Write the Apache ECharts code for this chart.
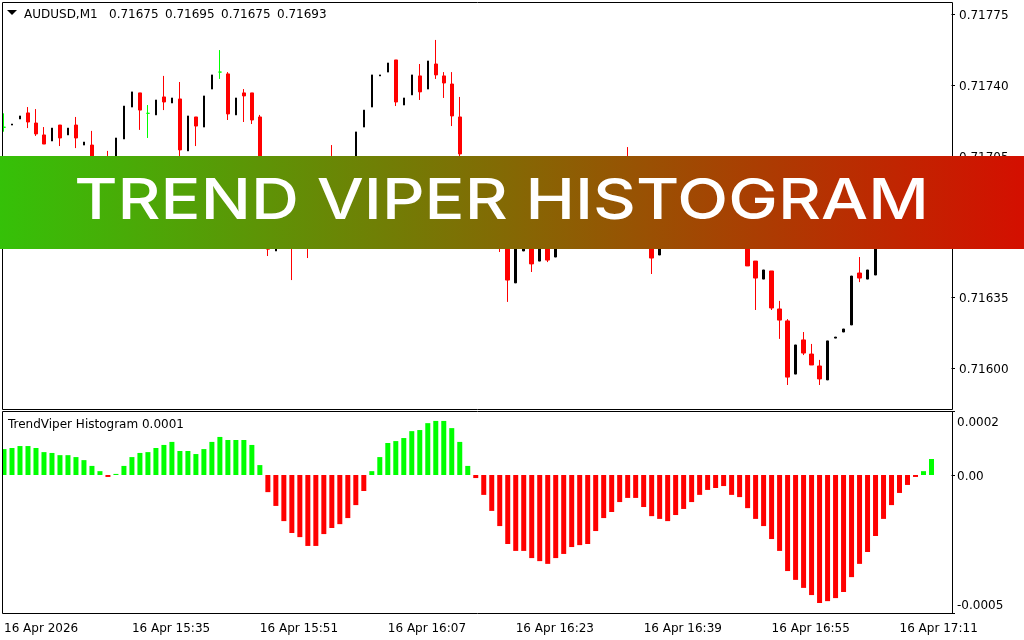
<!DOCTYPE html>
<html>
<head>
<meta charset="utf-8">
<title>Trend Viper Histogram</title>
<style>
  html, body { margin: 0; padding: 0; background: #fff; }
  #chart { width: 1024px; height: 640px; }
</style>
<script src="https://cdn.jsdelivr.net/npm/echarts@6/dist/echarts.min.js"></script>
</head>
<body>
<div id="chart"></div>
<script>
const FONT = "DejaVu Sans";
const UP_COLOR = "#000000";
const DOWN_COLOR = "#ff0000";
const DOJI_COLOR = "#00ff00";

const BAR_COUNT = 119; // two empty slots stay free on the right
const tickLabels = ["16 Apr 2026", "16 Apr 15:35", "16 Apr 15:51", "16 Apr 16:07", "16 Apr 16:23", "16 Apr 16:39", "16 Apr 16:55", "16 Apr 17:11"];

// prices in points (1 point = 0.00001)
const opens = [
  71719.3, 71720.4, 71723.4, 71726.4, 71721.4, 71715.5, 71712.5, 71720.4, 71715.5, 71720.4,
  71710.5, 71710.5, 71703, 71702, 71700, 71713.5, 71729.3, 71736.3, 71726.2, 71725.4,
  71734.3, 71731.3, 71733.3, 71707.6, 71724.4, 71719.4, 71738.2, 71746.6, 71745.7, 71725.4,
  71736.3, 71736.3, 71724.4, 71680, 71658.1, 71672, 71668, 71662, 71670, 71664,
  71672, 71695, 71685, 71692, 71702, 71719.4, 71729.3, 71744.7, 71746.6, 71752.6,
  71730.3, 71735.3, 71744.7, 71738.2, 71750.6, 71744.7, 71740.7, 71724.4, 71704, 71695,
  71688, 71678, 71668, 71665, 71642.3, 71658.1, 71666, 71653.1, 71666, 71655.1,
  71668, 71674, 71680, 71676, 71684, 71690, 71686, 71692, 71696, 71688,
  71680, 71670, 71656.1, 71668, 71672, 71668, 71676, 71682, 71678, 71674,
  71680, 71676, 71670, 71664, 71653.1, 71644.2, 71648.2, 71629.4, 71623.5, 71597.2,
  71614.1, 71607.1, 71601.2, 71594.3, 71615.0, 71618.0, 71621.5, 71647.2, 71644.2, 71646.2,
  71662, 71668, 71664, 71672, 71678, 71672, 71675,
];
const closes = [
  71719.3, 71720.9, 71724.9, 71721.9, 71716.0, 71711.0, 71718.9, 71714.0, 71718.9, 71714.0,
  71712.0, 71703, 71699, 71698, 71714.0, 71729.8, 71736.8, 71727.8, 71726.2, 71732.8,
  71731.8, 71733.8, 71708.1, 71724.9, 71719.9, 71734.8, 71745.2, 71746.6, 71725.9, 71733.8,
  71734.8, 71722.9, 71680, 71659, 71670, 71666, 71662, 71670, 71664, 71672,
  71680, 71685, 71692, 71700, 71717.0, 71727.8, 71745.2, 71745.2, 71751.1, 71731.8,
  71733.8, 71745.2, 71736.8, 71752.1, 71745.2, 71741.2, 71724.9, 71706.1, 71695, 71688,
  71678, 71668, 71660, 71643.7, 71664, 71664, 71651.7, 71665, 71653.6, 71668,
  71674, 71680, 71676, 71684, 71690, 71686, 71692, 71696, 71688, 71680,
  71670, 71654.6, 71668, 71672, 71668, 71676, 71682, 71678, 71674, 71680,
  71676, 71670, 71664, 71650.7, 71644.7, 71648.7, 71629.9, 71623.9, 71595.7, 71611.6,
  71607.6, 71601.7, 71594.8, 71613.6, 71615.5, 71619.5, 71645.7, 71644.7, 71648.7, 71662,
  71668, 71664, 71672, 71678, 71672, 71675, 71693,
];
const lows = [
  71717.1, 71720.4, 71723.4, 71718.9, 71715.0, 71711.0, 71712.5, 71710.0, 71715.5, 71709.0,
  71710.5, 71700, 71697, 71695, 71700, 71713.5, 71729.3, 71718.0, 71714.0, 71725.4,
  71727.8, 71731.3, 71703, 71707.6, 71710.0, 71719.4, 71738.2, 71743.2, 71722.9, 71725.4,
  71721.9, 71720.9, 71678, 71655.6, 71658.1, 71662, 71643.7, 71662, 71654.6, 71664,
  71672, 71680, 71685, 71692, 71702, 71719.4, 71729.3, 71744.7, 71746.6, 71729.8,
  71730.3, 71735.3, 71732.8, 71738.2, 71743.2, 71733.8, 71719.9, 71702, 71692, 71685,
  71675, 71664, 71657.6, 71632.9, 71642.3, 71658.1, 71647.7, 71653.1, 71652.6, 71655.1,
  71668, 71674, 71672, 71676, 71684, 71683, 71686, 71692, 71685, 71677,
  71667, 71646.7, 71656.1, 71668, 71665, 71668, 71676, 71676, 71671, 71674,
  71673, 71668, 71661, 71650.7, 71628.9, 71644.2, 71628.9, 71614.6, 71591.8, 71597.2,
  71606.6, 71601.7, 71591.8, 71594.3, 71615.0, 71618.0, 71621.5, 71642.7, 71644.2, 71646.2,
  71662, 71661, 71664, 71672, 71672, 71672, 71675,
];
const highs = [
  71726.2, 71720.9, 71724.9, 71729.3, 71728.3, 71719.4, 71718.9, 71720.4, 71718.9, 71724.4,
  71712.0, 71717.5, 71704, 71707.6, 71714.0, 71729.8, 71736.8, 71736.3, 71730.3, 71732.8,
  71744.7, 71733.8, 71741.7, 71724.9, 71724.4, 71734.8, 71745.2, 71757.5, 71746.6, 71733.8,
  71738.2, 71736.3, 71725.4, 71682, 71670, 71674, 71676, 71670, 71676, 71672,
  71680, 71710.5, 71692, 71700, 71717.0, 71727.8, 71745.2, 71745.2, 71751.1, 71752.6,
  71733.8, 71745.2, 71750.6, 71752.1, 71762.5, 71746.6, 71746.6, 71734.3, 71705, 71698,
  71692, 71682, 71672, 71668, 71664, 71664, 71668, 71665, 71668, 71668,
  71674, 71680, 71682, 71684, 71690, 71693, 71692, 71696, 71709.5, 71690,
  71683, 71673, 71668, 71672, 71675, 71676, 71682, 71685, 71680, 71680,
  71683, 71678, 71672, 71666, 71653.1, 71648.7, 71648.2, 71633.4, 71624.4, 71611.6,
  71618.0, 71612.1, 71604.2, 71613.6, 71615.5, 71619.5, 71645.7, 71655.1, 71648.7, 71662,
  71668, 71670, 71672, 71678, 71681, 71675, 71695,
];

// histogram, in millionths
const histValues = [
  94, 98, 105, 105, 98, 83, 80, 72, 72, 65,
  54, 33, 14, -7, 4, 33, 65, 80, 83, 98,
  109, 120, 87, 87, 76, 94, 120, 138, 127, 127,
  127, 109, 36, -62, -112, -167, -210, -225, -257, -257,
  -214, -192, -178, -156, -109, -58, 14, 65, 116, 123,
  134, 159, 163, 188, 196, 196, 170, 120, 33, -11,
  -72, -130, -185, -250, -275, -275, -301, -312, -322, -301,
  -286, -261, -254, -250, -203, -156, -134, -98, -83, -83,
  -116, -149, -159, -167, -145, -123, -98, -72, -54, -47,
  -40, -72, -80, -120, -159, -185, -232, -275, -348, -380,
  -409, -435, -464, -457, -446, -424, -370, -322, -279, -221,
  -159, -109, -65, -36, -7, 14, 58,
];

const priceTicks = [0.71775, 0.7174, 0.71705, 0.7167, 0.71635, 0.716];
const priceMin = 0.7157992;
const priceMax = 0.7178127;
const histMin = -0.0005;
const histMax = 0.000232;
const histTicks = [histMax, 0, histMin];
// the top and bottom labels sit inside the panel, away from their ticks
const histLabelValues = [0.000193, 0, -0.000468];
const histLabelTexts = ["0.0002", "0.00", "-0.0005"];

const headerSymbol = "AUDUSD,M1";
const headerValues = ["0.71675", "0.71695", "0.71675", "0.71693"];
const indicatorText = "TrendViper Histogram 0.0001";
const bannerText = "TREND VIPER HISTOGRAM";

const categories = Array.from({ length: BAR_COUNT }, (_, i) => (i % 16 === 0 && tickLabels[i / 16]) || "");

// axis labels sit a little low, padding in rich text nudges them down
const sideLabelRich = { t: { fontFamily: FONT, fontSize: 12, color: "#000", padding: [3, 0, 0, 0] } };

function candleRows(test) {
  return opens.map((o, i) => {
    const c = closes[i];
    if (!test(o, c)) return "-";
    return [o / 1e5, c / 1e5, lows[i] / 1e5, highs[i] / 1e5];
  });
}

function candleSeries(data, color, width) {
  return {
    type: "candlestick",
    xAxisIndex: 0,
    yAxisIndex: 0,
    barWidth: width,
    data,
    itemStyle: {
      color,
      color0: color,
      borderColor: color,
      borderColor0: color,
      borderColorDoji: color,
      borderWidth: 1,
    },
  };
}

function frameRect(y, height) {
  return {
    type: "rect",
    silent: true,
    z: 10,
    shape: { x: 2.5, y: y + 0.5, width: 950, height },
    style: { fill: "none", stroke: "#000", lineWidth: 1 },
  };
}

function panelText(x, y, text) {
  return {
    type: "text",
    silent: true,
    z: 10,
    x,
    y,
    style: { text, fill: "#000", font: "12px '" + FONT + "'", verticalAlign: "middle" },
  };
}

const chart = echarts.init(document.getElementById("chart"), null, { renderer: "canvas" });

chart.setOption({
  animation: false,
  backgroundColor: "#fff",
  grid: [
    { left: -0.5, top: 2, width: 952, height: 407 },
    { left: -0.5, top: 411, width: 952, height: 202 },
  ],
  xAxis: [
    {
      type: "category",
      gridIndex: 0,
      data: categories,
      axisLine: { show: false },
      axisTick: { show: false },
      axisLabel: { show: false },
      splitLine: { show: false },
    },
    {
      type: "category",
      gridIndex: 1,
      data: categories,
      axisLine: { show: false },
      axisTick: { alignWithLabel: true, interval: 15, length: 3, lineStyle: { color: "#000" } },
      axisLabel: { interval: 15, align: "left", margin: 10, color: "#000", fontFamily: FONT, fontSize: 12, hideOverlap: false },
      splitLine: { show: false },
    },
  ],
  yAxis: [
    {
      type: "value",
      gridIndex: 0,
      position: "right",
      min: priceMin,
      max: priceMax,
      axisLine: { show: false },
      axisTick: { show: true, length: 3.5, customValues: priceTicks, lineStyle: { color: "#000" } },
      axisLabel: {
        customValues: priceTicks,
        margin: 7.5,
        rich: sideLabelRich,
        formatter: (v) => "{t|" + v.toFixed(5) + "}",
      },
      splitLine: { show: false },
    },
    {
      type: "value",
      gridIndex: 1,
      position: "right",
      min: histMin,
      max: histMax,
      axisLine: { show: false },
      axisTick: { show: true, length: 3.5, customValues: histTicks, lineStyle: { color: "#000" } },
      axisLabel: {
        customValues: histLabelValues,
        margin: 5.5,
        rich: sideLabelRich,
        formatter: (v) => "{t|" + histLabelTexts[histLabelValues.indexOf(v)] + "}",
      },
      splitLine: { show: false },
    },
  ],
  series: [
    candleSeries(candleRows((o, c) => c > o), UP_COLOR, 2),
    candleSeries(candleRows((o, c) => c < o), DOWN_COLOR, 4),
    candleSeries(candleRows((o, c) => c === o), DOJI_COLOR, 4),
    {
      type: "bar",
      xAxisIndex: 1,
      yAxisIndex: 1,
      barWidth: 5,
      data: histValues.map((v) => v / 1e6),
      itemStyle: { color: (p) => (p.value >= 0 ? DOJI_COLOR : DOWN_COLOR) },
    },
  ],
  graphic: {
    elements: [
      { type: "rect", silent: true, z: 9, shape: { x: 0, y: 0, width: 2, height: 640 }, style: { fill: "#fff" } },
      frameRect(2, 407),
      frameRect(411, 202),
      { type: "polygon", silent: true, z: 10, shape: { points: [[7, 10], [17, 10], [12, 15]] }, style: { fill: "#000" } },
      panelText(24, 15, headerSymbol),
      ...headerValues.map((text, i) => panelText(109 + 56 * i, 15, text)),
      panelText(8, 425, indicatorText),
      {
        type: "rect",
        silent: true,
        z: 20,
        shape: { x: 0, y: 156, width: 1024, height: 93 },
        style: {
          fill: new echarts.graphic.LinearGradient(0, 0, 1, 0, [
            { offset: 0, color: "#35c108" },
            { offset: 1, color: "#d40f00" },
          ]),
        },
      },
      {
        type: "text",
        silent: true,
        z: 21,
        x: 501.5,
        y: 202,
        scaleX: 1.187,
        style: {
          text: bannerText,
          fill: "#fff",
          font: "500 56px Inter",
          align: "center",
          verticalAlign: "middle",
        },
      },
    ],
  },
});
</script>
</body>
</html>
